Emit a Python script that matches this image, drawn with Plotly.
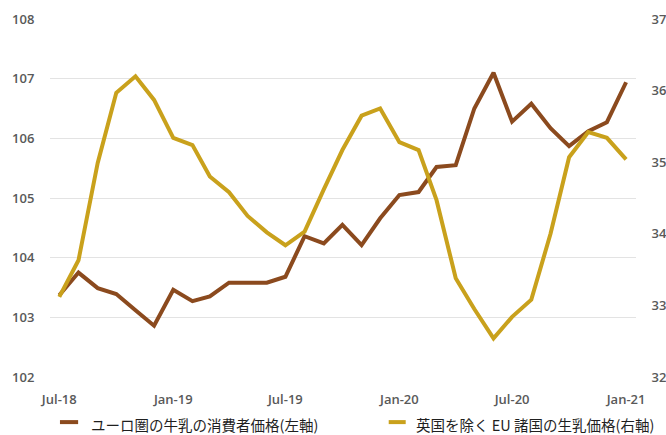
import pandas as pd
import plotly.graph_objects as go

# Monthly series, Jul-2018 .. Jan-2021
months = pd.date_range("2018-07-01", "2021-01-01", freq="MS")

# Euro-area consumer price of milk (left axis)
euro_cpi = [103.37, 103.75, 103.49, 103.39, 103.12, 102.86, 103.46, 103.27,
            103.35, 103.58, 103.58, 103.58, 103.68, 104.36, 104.24, 104.55,
            104.21, 104.66, 105.05, 105.10, 105.52, 105.55, 106.50, 107.10,
            106.28, 106.58, 106.17, 105.87, 106.12, 106.27, 106.94]

# Raw milk price in EU countries excluding the UK (right axis)
eu_raw_milk = [33.12, 33.63, 34.99, 35.97, 36.20, 35.87, 35.34, 35.24,
               34.80, 34.58, 34.25, 34.02, 33.84, 34.03, 34.62, 35.17,
               35.65, 35.75, 35.28, 35.17, 34.47, 33.38, 32.95, 32.54,
               32.84, 33.08, 34.00, 35.07, 35.42, 35.34, 35.04]

left_ticks = [102, 103, 104, 105, 106, 107, 108]
right_ticks = [32, 33, 34, 35, 36, 37]
x_ticks = ["2018-07-01", "2019-01-01", "2019-07-01", "2020-01-01", "2020-07-01", "2021-01-01"]
x_tick_text = ["Jul-18", "Jan-19", "Jul-19", "Jan-20", "Jul-20", "Jan-21"]

series_names = ["ユーロ圏の牛乳の消費者価格(左軸)", "英国を除く EU 諸国の生乳価格(右軸)"]
colors = ["#8B4A1E", "#C9A11C"]

tick_font = dict(family="Open Sans, Liberation Sans, sans-serif", size=13,
                 color="#595959", weight=600)

fig = go.Figure()
fig.add_trace(go.Scatter(x=months, y=eu_raw_milk, name=series_names[1], yaxis="y2",
                         mode="lines", line=dict(color=colors[1], width=4)))
fig.add_trace(go.Scatter(x=months, y=euro_cpi, name=series_names[0], yaxis="y",
                         mode="lines", line=dict(color=colors[0], width=4)))

hidden_tick = "rgba(0,0,0,0)"
fig.update_layout(
    width=666, height=435,
    margin=dict(l=50, r=30, t=19, b=58, autoexpand=False),
    paper_bgcolor="white", plot_bgcolor="white",
    showlegend=False,
    xaxis=dict(
        type="date",
        range=["2018-06-16", "2021-01-17"],
        tickvals=x_ticks, ticktext=x_tick_text,
        showgrid=False, zeroline=False, showline=False,
        tickfont=tick_font, ticks="outside", ticklen=10, tickcolor=hidden_tick,
    ),
    yaxis=dict(
        range=[102, 108], tickvals=left_ticks,
        showgrid=True, gridcolor="#E3E3E3", gridwidth=1,
        zeroline=False, showline=False,
        tickfont=tick_font, ticks="outside", ticklen=12, tickcolor=hidden_tick,
    ),
    yaxis2=dict(
        range=[32, 37], tickvals=right_ticks,
        overlaying="y", side="right",
        showgrid=False, zeroline=False, showline=False,
        tickfont=tick_font, ticks="outside", ticklen=12, tickcolor=hidden_tick,
    ),
)

# Legend drawn below the plot: short colour swatch followed by the label
legend_y = -0.134
legend_items = [
    (0.017, 0.048, 0.066, series_names[0], colors[0]),
    (0.578, 0.607, 0.622, series_names[1], colors[1]),
]
for x0, x1, xt, label, col in legend_items:
    fig.add_shape(type="line", xref="paper", yref="paper",
                  x0=x0, x1=x1, y0=legend_y + 0.008, y1=legend_y + 0.008,
                  line=dict(color=col, width=4))
    fig.add_annotation(xref="paper", yref="paper", x=xt, y=legend_y,
                       xanchor="left", yanchor="middle", showarrow=False,
                       text=label,
                       font=dict(family="Noto Sans CJK JP, sans-serif", size=14.5, color="#1F1F1F"))

fig.write_html("out.html")
